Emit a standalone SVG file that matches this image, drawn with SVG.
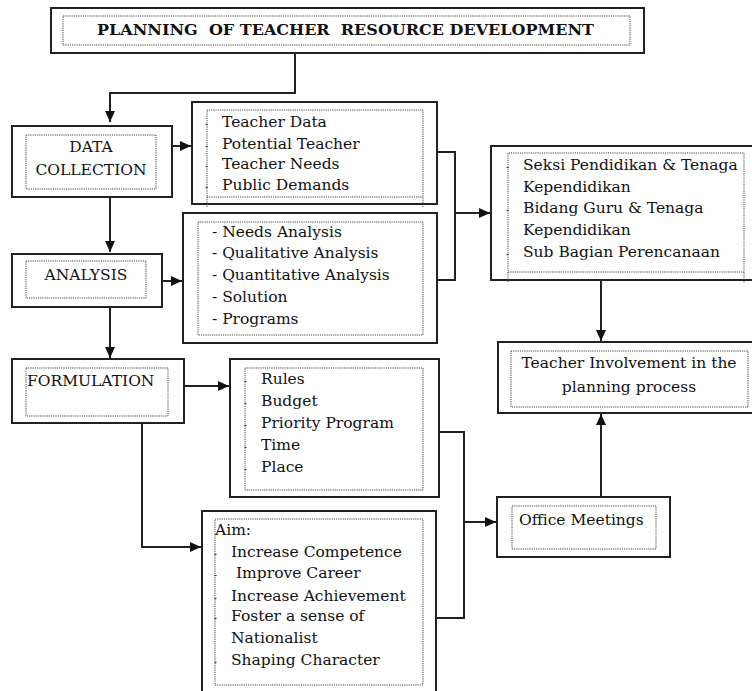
<svg xmlns="http://www.w3.org/2000/svg" width="752" height="691" viewBox="0 0 752 691">
<style>
.box{fill:#fff;stroke:#222;stroke-width:2}
.dot{fill:none;stroke:#444;stroke-width:1;stroke-dasharray:1.2 1}
.t{font-family:"DejaVu Serif","Liberation Serif",serif;font-size:15.5px;fill:#111}
.d{font-family:"DejaVu Serif","Liberation Serif",serif;font-size:9px;fill:#111}
.c{text-anchor:middle}
.ln{fill:none;stroke:#222;stroke-width:2}
</style>
<defs>
<marker id="ah" markerUnits="userSpaceOnUse" markerWidth="12" markerHeight="10" refX="11" refY="5" orient="auto">
<path d="M0,0 L11,5 L0,10 Z" fill="#111"/>
</marker>
</defs>
<rect width="752" height="691" fill="#fff"/>

<g id="connectors">
<path class="ln" d="M295 53 V93 H110 V122" marker-end="url(#ah)"/>
<path class="ln" d="M172 146 H191" marker-end="url(#ah)"/>
<path class="ln" d="M110 197 V252" marker-end="url(#ah)"/>
<path class="ln" d="M162 281 H182" marker-end="url(#ah)"/>
<path class="ln" d="M437 152 H455 V280 H437"/>
<path class="ln" d="M455 213 H490" marker-end="url(#ah)"/>
<path class="ln" d="M110 307 V358" marker-end="url(#ah)"/>
<path class="ln" d="M184 386 H229" marker-end="url(#ah)"/>
<path class="ln" d="M142 423 V547 H201" marker-end="url(#ah)"/>
<path class="ln" d="M437 432 H464 V618 H436"/>
<path class="ln" d="M464 522 H496" marker-end="url(#ah)"/>
<path class="ln" d="M601 280 V341" marker-end="url(#ah)"/>
<path class="ln" d="M601 497 V414" marker-end="url(#ah)"/>
</g>

<g id="title">
<rect class="box" x="51" y="8" width="593" height="45"/>
<rect class="dot" x="63" y="16" width="567" height="29"/>
<text class="t" x="97" y="35" font-size="18" font-weight="bold" textLength="497" lengthAdjust="spacingAndGlyphs" style="white-space:pre">PLANNING  OF TEACHER  RESOURCE DEVELOPMENT</text>
</g>

<g id="data-collection">
<rect class="box" x="12" y="126" width="160" height="71"/>
<rect class="dot" x="26" y="135" width="130" height="54"/>
<text class="t c" x="91" y="152">DATA</text>
<text class="t c" x="91" y="175">COLLECTION</text>
</g>

<g id="teacher-data">
<rect class="box" x="192" y="102" width="245" height="102"/>
<path class="dot" d="M207 207 V110 H423 V207 M207 197 H423"/>
<text class="d" x="205" y="127">-</text>
<text class="d" x="205" y="149">-</text>
<text class="d" x="205" y="169">-</text>
<text class="d" x="205" y="190">-</text>
<text class="t" x="222" y="127">Teacher Data</text>
<text class="t" x="222" y="149">Potential Teacher</text>
<text class="t" x="222" y="169">Teacher Needs</text>
<text class="t" x="222" y="190">Public Demands</text>
</g>

<g id="analysis">
<rect class="box" x="12" y="254" width="150" height="53"/>
<rect class="dot" x="26" y="261" width="120" height="37"/>
<text class="t c" x="86" y="280">ANALYSIS</text>
</g>

<g id="analysis-list">
<rect class="box" x="183" y="213" width="254" height="130"/>
<rect class="dot" x="198" y="222" width="225" height="113"/>
<text class="t" x="212" y="237">- Needs Analysis</text>
<text class="t" x="212" y="258">- Qualitative Analysis</text>
<text class="t" x="212" y="280">- Quantitative Analysis</text>
<text class="t" x="212" y="302">- Solution</text>
<text class="t" x="212" y="324">- Programs</text>
</g>

<g id="formulation">
<rect class="box" x="12" y="359" width="172" height="64"/>
<rect class="dot" x="26" y="368" width="142" height="48"/>
<text class="t" x="27" y="386">FORMULATION</text>
</g>

<g id="rules">
<rect class="box" x="230" y="359" width="209" height="138"/>
<rect class="dot" x="245" y="368" width="178" height="122"/>
<text class="d" x="244" y="384">-</text>
<text class="d" x="244" y="406">-</text>
<text class="d" x="244" y="428">-</text>
<text class="d" x="244" y="450">-</text>
<text class="d" x="244" y="472">-</text>
<text class="t" x="261" y="384">Rules</text>
<text class="t" x="261" y="406">Budget</text>
<text class="t" x="261" y="428">Priority Program</text>
<text class="t" x="261" y="450">Time</text>
<text class="t" x="261" y="472">Place</text>
</g>

<g id="aim">
<rect class="box" x="202" y="511" width="234" height="195"/>
<rect class="dot" x="215" y="519" width="208" height="166"/>
<text class="t" x="215" y="535">Aim:</text>
<text class="d" x="214" y="557">-</text>
<text class="d" x="214" y="578">-</text>
<text class="d" x="214" y="601">-</text>
<text class="d" x="214" y="621">-</text>
<text class="d" x="214" y="665">-</text>
<text class="t" x="231" y="557">Increase Competence</text>
<text class="t" x="236" y="578">Improve Career</text>
<text class="t" x="231" y="601">Increase Achievement</text>
<text class="t" x="231" y="621">Foster a sense of</text>
<text class="t" x="231" y="643">Nationalist</text>
<text class="t" x="231" y="665">Shaping Character</text>
</g>

<g id="seksi">
<rect class="box" x="491" y="146" width="265" height="134"/>
<path class="dot" d="M508 282 V153 H744 V282 M508 272 H744"/>
<text class="d" x="506" y="170">-</text>
<text class="d" x="506" y="213">-</text>
<text class="d" x="506" y="257">-</text>
<text class="t" x="523" y="170">Seksi Pendidikan &amp; Tenaga</text>
<text class="t" x="523" y="192">Kependidikan</text>
<text class="t" x="523" y="213">Bidang Guru &amp; Tenaga</text>
<text class="t" x="523" y="235">Kependidikan</text>
<text class="t" x="523" y="257">Sub Bagian Perencanaan</text>
</g>

<g id="teacher-involvement">
<rect class="box" x="498" y="342" width="258" height="71"/>
<rect class="dot" x="511" y="351" width="237" height="56"/>
<text class="t c" x="629" y="368">Teacher Involvement in the</text>
<text class="t c" x="629" y="392">planning process</text>
</g>

<g id="office-meetings">
<rect class="box" x="497" y="497" width="173" height="60"/>
<rect class="dot" x="512" y="506" width="144" height="43"/>
<text class="t" x="519" y="525">Office Meetings</text>
</g>
</svg>
